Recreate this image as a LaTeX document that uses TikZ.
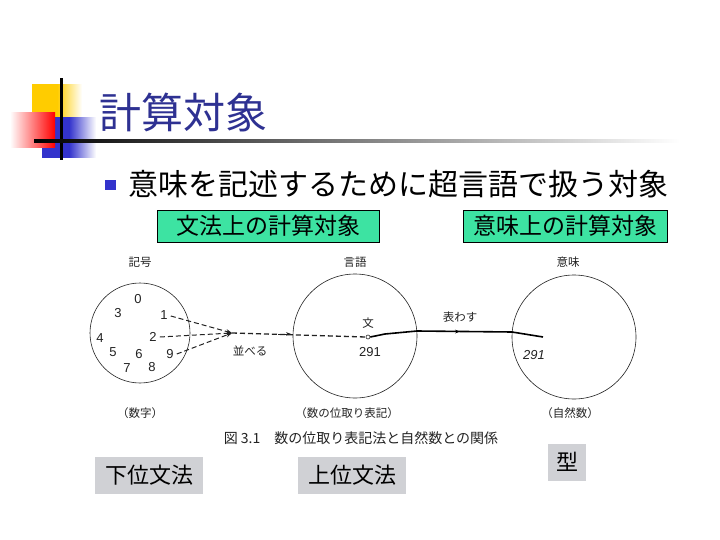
\documentclass[tikz,border=0pt]{standalone}
\usepackage{fontspec}
\setmainfont{Liberation Sans}
\newfontfamily\jp{Noto Sans CJK JP}
\usetikzlibrary{arrows.meta,decorations.markings}
\definecolor{titleblue}{HTML}{2E3192}
\definecolor{boxgreen}{HTML}{3DE3A2}
\definecolor{boxgray}{HTML}{D0D1D5}
\definecolor{ylw}{HTML}{FFCC00}
\definecolor{blu}{HTML}{3333CC}
\definecolor{figink}{HTML}{222222}
\tikzset{
  greenbox/.style={draw=black, line width=0.8pt, fill=boxgreen, inner sep=0pt, minimum height=32pt, font=\jp\fontsize{23}{23}\selectfont},
  graybox/.style={fill=boxgray, inner sep=0pt, font=\jp\fontsize{22}{22}\selectfont},
  figtxt/.style={font=\jp\fontsize{11.5}{11.5}\selectfont, text=figink, inner sep=1pt},
  numtxt/.style={font=\fontsize{13}{13}\selectfont, text=figink, inner sep=0pt},
  ring/.style={draw=figink, line width=0.6pt},
  dashline/.style={draw=figink, line width=1pt, dashed, dash pattern=on 5pt off 3pt},
  solidline/.style={draw=black, line width=1.6pt},
}
\begin{document}
\begin{tikzpicture}[x=1pt,y=-1pt]
\useasboundingbox (0,0) rectangle (720,540);
% decoration
\shade[left color=ylw, right color=white, middle color=ylw] (32,85) rectangle (82,120);
\shade[left color=blu, right color=white, middle color=blu] (42,118) rectangle (96,158);
\shade[left color=white, right color=red] (10,113) rectangle (55,148);
\fill[black] (60,78) rectangle (62.5,160);
\shade[left color=black, right color=white] (34,140) rectangle (680,142.5);
% title
\node[anchor=west, inner sep=0pt, text=titleblue, font=\jp\fontsize{42}{42}\selectfont] (title) at (99,112) {計算対象};
% bullet
\fill[blu] (105,180) rectangle (115.5,190.5);
\node[anchor=west, inner sep=0pt, font=\jp\fontsize{30}{30}\selectfont] (bullet) at (128,184) {意味を記述するために超言語で扱う対象};
% green boxes
\node[greenbox, minimum width=222pt] (gb1) at (268,226) {文法上の計算対象};
\node[greenbox, minimum width=204pt] (gb2) at (565,226) {意味上の計算対象};
% circles
\node[ring, circle, minimum size=100pt, inner sep=0pt] (c1) at (140,333) {};
\node[ring, circle, minimum size=124pt, inner sep=0pt] (c2) at (355,336) {};
\node[ring, circle, minimum size=124pt, inner sep=0pt] (c3) at (574,337) {};
% labels
\node[figtxt] (l1) at (140,262) {記号};
\node[figtxt] (l2) at (355,262) {言語};
\node[figtxt] (l3) at (568,262) {意味};
\node[figtxt] (b1) at (140,413) {（数字）};
\node[figtxt] (b2) at (347,413) {（数の位取り表記）};
\node[figtxt] (b3) at (570,413) {（自然数）};
% digits
\node[numtxt] (n0) at (138,299) {0};
\node[numtxt] (n3) at (118,313) {3};
\node[numtxt] (n1) at (164,315) {1};
\node[numtxt] (n4) at (100,338) {4};
\node[numtxt] (n2) at (153,337) {2};
\node[numtxt] (n5) at (113,352) {5};
\node[numtxt] (n6) at (139,354) {6};
\node[numtxt] (n9) at (170,354) {9};
\node[numtxt] (n7) at (127,368) {7};
\node[numtxt] (n8) at (152,367) {8};
% dashed arrows
\coordinate (m) at (232,333);
\draw[dashline, -{Stealth[length=6pt]}] (n1.east) ++(3,1) -- (m);
\draw[dashline, -{Stealth[length=6pt]}] (n2.east) ++(3,0) -- (m);
\draw[dashline, -{Stealth[length=6pt]}] (n9.east) ++(3,0) -- (m);
\node[figtxt] (narabe) at (250,351) {並べる};
\node[draw=figink, circle, fill=white, inner sep=0pt, minimum size=4pt, line width=0.6pt] (dot) at (368,337) {};
\draw[dashline, line width=1.3pt] (m) -- (dot.west);
\draw[figink, line width=0.8pt, -{Stealth[length=5pt]}] (278,334) -- (291,334);
\node[figtxt] (bun) at (368,323) {文};
\node[numtxt] (s291) at (370,352) {291};
% solid line
\coordinate (p1) at (417,331);
\coordinate (p2) at (512,332);
\coordinate (endp) at (543,337);
\draw[solidline] (dot.east) -- (385,334) -- (p1) -- (p2) -- (endp);
\draw[black, line width=0.8pt, -{Stealth[length=5pt]}] (448,331.5) -- (460,331.6);
\node[figtxt] (arawasu) at (460,317) {表わす};
\node[numtxt, font=\fontsize{13}{13}\selectfont\itshape] (r291) at (534,355) {291};
% caption
\node[figtxt, font=\jp\fontsize{14}{14}\selectfont] (cap) at (361,438) {図 3.1\quad 数の位取り表記法と自然数との関係};
% gray boxes
\node[graybox, minimum width=108pt, minimum height=37pt] (g1) at (149,475) {下位文法};
\node[graybox, minimum width=108pt, minimum height=37pt] (g2) at (352,475) {上位文法};
\node[graybox, minimum width=38pt, minimum height=37pt] (g3) at (567,462) {型};
\end{tikzpicture}
\end{document}
